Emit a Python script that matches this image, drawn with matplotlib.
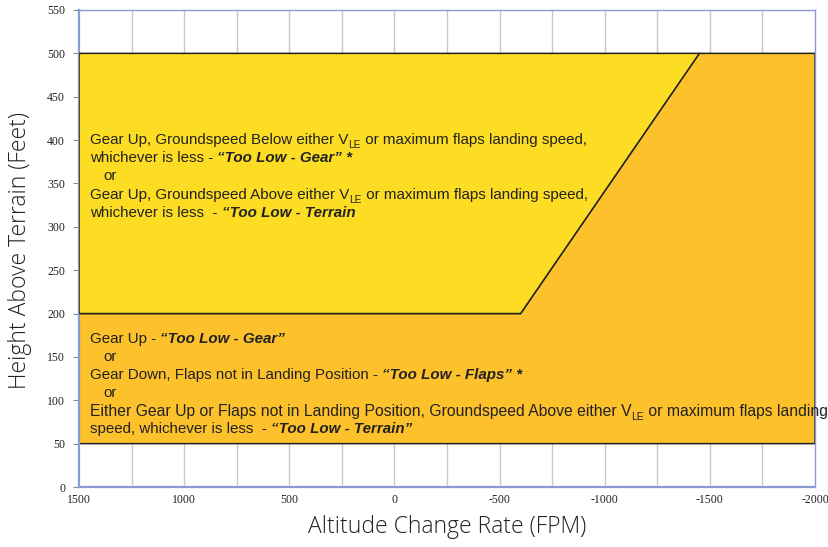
import matplotlib
matplotlib.use("Agg")
import matplotlib.pyplot as plt
from matplotlib.patches import Polygon
from matplotlib.transforms import offset_copy

# ---- data ----
x_ticks = [1500, 1000, 500, 0, -500, -1000, -1500, -2000]
x_grid = [1250, 1000, 750, 500, 250, 0, -250, -500, -750, -1000, -1250, -1500, -1750]
y_ticks = [0, 50, 100, 150, 200, 250, 300, 350, 400, 450, 500, 550]
# upper (yellow) envelope
upper_x = [1500, -600, -1450, 1500]
upper_y = [200, 200, 500, 500]
# lower (orange) envelope
lower_x = [1500, -2000, -2000, -1450, -600, 1500]
lower_y = [50, 50, 500, 500, 200, 200]

xlabel = "Altitude Change Rate (FPM)"
ylabel = "Height Above Terrain (Feet)"

R, B, S = "r", "b", "s"
upper_lines = [
    (395.5, 0, [(R, "Gear Up, Groundspeed Below either V"), (S, "LE"), (R, " or maximum flaps landing speed,")]),
    (374.7, 0, [(R, "whichever is less - "), (B, "\u201cToo Low - Gear\u201d *")]),
    (354.0, 1, [(R, "or")]),
    (332.5, 0, [(R, "Gear Up, Groundspeed Above either V"), (S, "LE"), (R, " or maximum flaps landing speed,")]),
    (311.5, 0, [(R, "whichever is less  - "), (B, "\u201cToo Low - Terrain")]),
]
lower_lines = [
    (166.4, 0, [(R, "Gear Up - "), (B, "\u201cToo Low - Gear\u201d")]),
    (145.6, 1, [(R, "or")]),
    (124.5, 0, [(R, "Gear Down, Flaps not in Landing Position - "), (B, "\u201cToo Low - Flaps\u201d *")]),
    (103.8, 1, [(R, "or")]),
    (81.9, 0, [(R, "Either Gear Up or Flaps not in Landing Position, Groundspeed Above either V"), (S, "LE"),
               (R, " or maximum flaps landing")]),
    (62.3, 0, [(R, "speed, whichever is less  - "), (B, "\u201cToo Low - Terrain\u201d")]),
]

# ---- figure ----
fig = plt.figure(figsize=(8.29, 5.47), dpi=100)
ax = fig.add_axes([79 / 829, 1 - 487 / 547, (815 - 79) / 829, (487 - 10) / 547])
ax.set_xlim(1500, -2000)
ax.set_ylim(0, 550)

for gx in x_grid:
    ax.axvline(gx, color="#c8c8c8", lw=1.0, zorder=0)

ax.add_patch(Polygon(list(zip(lower_x, lower_y)), closed=True, facecolor="#FDC12C",
                     edgecolor="#222222", lw=1.1, zorder=2))
ax.add_patch(Polygon(list(zip(upper_x, upper_y)), closed=True, facecolor="#FDDC24",
                     edgecolor="#222222", lw=1.1, zorder=3))

ax.set_xticks(x_ticks)
ax.set_xticklabels([str(v) for v in x_ticks])
ax.set_yticks(y_ticks)
ax.set_yticklabels([str(v) for v in y_ticks])
for lab in ax.get_xticklabels() + ax.get_yticklabels():
    lab.set_fontfamily("Liberation Serif")
    lab.set_fontsize(8.5)
    lab.set_color("#222222")
ax.tick_params(axis="x", length=0, pad=5)
ax.tick_params(axis="y", length=4, width=0.8, color="#888888", pad=6)

for side in ["left", "bottom"]:
    ax.spines[side].set_color("#8a9ad2")
    ax.spines[side].set_linewidth(1.6)
for side in ["top", "right"]:
    ax.spines[side].set_color("#8a9ad2")
    ax.spines[side].set_linewidth(1.0)

label_font = dict(family="Open Sans", weight="light", fontsize=16.5, color="#222222")
fig.text(447 / 829, 1 - 527 / 547, xlabel, ha="center", va="center", **label_font)
fig.text(20 / 829, 1 - 250 / 547, ylabel, ha="center", va="center", rotation=90, **label_font)

# ---- annotation text with mixed styles ----
renderer = fig.canvas.get_renderer()
y_shift = {R: 0, B: 0, S: -4}


def make_styles(size):
    base = dict(family="Liberation Sans", fontsize=size, color="#222222")
    return {R: dict(base), B: dict(base, weight="bold", style="italic"),
            S: dict(base, fontsize=size * 0.66)}


def width_px(s, kw):
    t1 = fig.text(0, 0, s + "|", **kw)
    w1 = t1.get_window_extent(renderer).width
    t1.remove()
    t2 = fig.text(0, 0, "|", **kw)
    w2 = t2.get_window_extent(renderer).width
    t2.remove()
    return w1 - w2


x_start = 1448
indent_px = 13
for lines in (upper_lines, lower_lines):
    for y, ind, segs in lines:
        size = 11.3 if len(segs) == 3 and lines is lower_lines else 10.9
        styles = make_styles(size)
        dx = indent_px * ind
        for st, s in segs:
            kw = styles[st]
            tr = offset_copy(ax.transData, fig=fig, x=dx, y=y_shift[st], units="dots")
            ax.text(x_start, y, s, transform=tr, va="baseline", ha="left", zorder=5,
                    clip_on=False, **kw)
            dx += width_px(s, kw)

fig.savefig("out.png", dpi=100)
